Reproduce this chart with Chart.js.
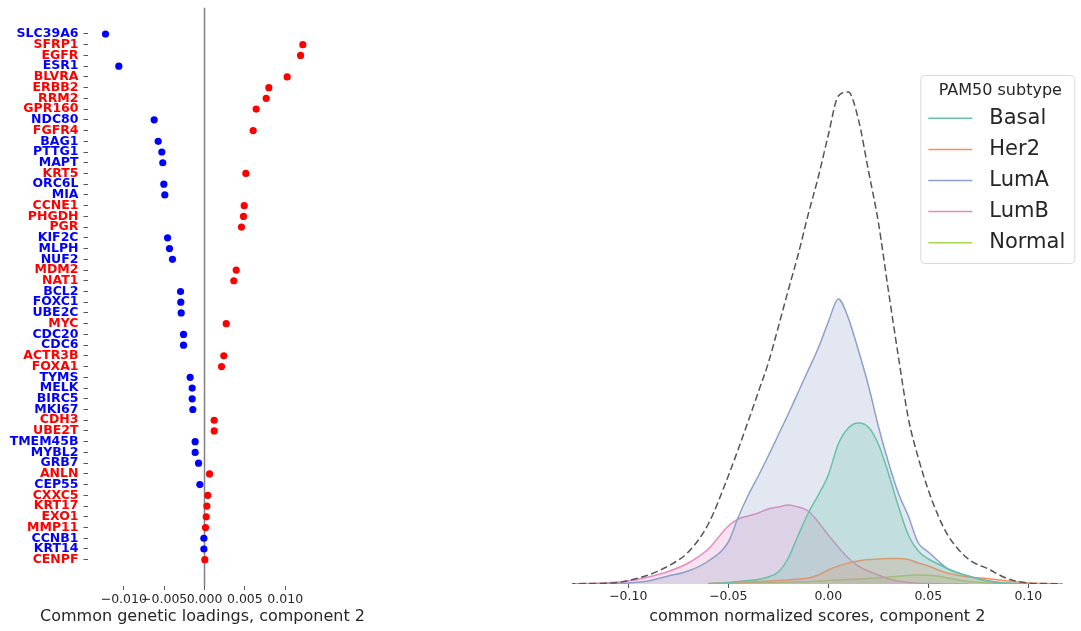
<!DOCTYPE html>
<html>
<head>
<meta charset="utf-8">
<script src="https://cdn.jsdelivr.net/npm/chart.js@4.4.1/dist/chart.umd.min.js"></script>
<style>
  html, body { margin: 0; padding: 0; background: #fff; }
  #wrap { position: relative; width: 1081px; height: 631px; }
  #loadings { position: absolute; left: 0; top: 0; width: 370px; height: 631px; }
  #scores { position: absolute; left: 540px; top: 0; width: 541px; height: 631px; }
</style>
</head>
<body>
<div id="wrap">
  <canvas id="loadings" width="370" height="631"></canvas>
  <canvas id="scores" width="541" height="631"></canvas>
</div>
<script>
// left panel: gene loadings on component 2
const genes = ["SLC39A6", "SFRP1", "EGFR", "ESR1", "BLVRA", "ERBB2", "RRM2", "GPR160", "NDC80", "FGFR4",
  "BAG1", "PTTG1", "MAPT", "KRT5", "ORC6L", "MIA", "CCNE1", "PHGDH", "PGR", "KIF2C",
  "MLPH", "NUF2", "MDM2", "NAT1", "BCL2", "FOXC1", "UBE2C", "MYC", "CDC20", "CDC6",
  "ACTR3B", "FOXA1", "TYMS", "MELK", "BIRC5", "MKI67", "CDH3", "UBE2T", "TMEM45B", "MYBL2",
  "GRB7", "ANLN", "CEP55", "CXXC5", "KRT17", "EXO1", "MMP11", "CCNB1", "KRT14", "CENPF"];
const loadings = [-0.01227, 0.01218, 0.0119, -0.01062, 0.01024, 0.00797, 0.00764, 0.0064, -0.00624, 0.00603,
  -0.00574, -0.00529, -0.00517, 0.00512, -0.00504, -0.00492, 0.00492, 0.00483, 0.00458, -0.00458,
  -0.00434, -0.00397, 0.00393, 0.00363, -0.00297, -0.00294, -0.00289, 0.00269, -0.0026, -0.0026,
  0.00239, 0.00211, -0.00178, -0.00153, -0.00153, -0.00145, 0.0012, 0.0012, -0.00116, -0.00116,
  -0.00074, 0.00062, -0.00058, 0.00041, 0.00029, 0.00021, 0.00012, -0.00008, -0.00008, 0.00004];
const loadingTicks = [-0.01, -0.005, 0, 0.005, 0.01];

// right panel: KDE of normalized scores per PAM50 subtype
const scoreGrid = [-0.13, -0.12, -0.11, -0.10, -0.09, -0.08, -0.07, -0.06, -0.05, -0.045,
  -0.04, -0.035, -0.03, -0.025, -0.02, -0.015, -0.01, -0.005, 0, 0.005,
  0.01, 0.015, 0.02, 0.025, 0.03, 0.035, 0.04, 0.045, 0.05, 0.055,
  0.06, 0.07, 0.08, 0.09, 0.10, 0.11, 0.12];
const densityAll = [0.02, 0.05, 0.08, 0.35, 0.9, 1.8, 3.2, 6.0, 10.8, 13.5,
  16.3, 19.2, 22.1, 25.7, 29.4, 33.0, 37.0, 40.7, 44.9, 48.8,
  49.2, 46.5, 41.4, 36.2, 29.4, 22.8, 16.6, 12.6, 9.4, 6.8,
  4.8, 2.5, 1.5, 0.5, 0.1, 0.03, 0];
const densityBasal = [null, null, null, null, null, null, null, 0.03, 0.15, 0.25,
  0.35, 0.45, 0.7, 1.2, 2.6, 4.9, 7.1, 8.9, 10.9, 14.0,
  15.6, 16.1, 15.7, 14.0, 11.1, 7.8, 4.9, 3.3, 2.5, 2.0,
  1.5, 0.8, 0.3, 0.1, 0.03, 0, null];
const densityHer2 = [null, null, null, null, null, null, null, 0.05, 0.12, 0.16,
  0.2, 0.25, 0.3, 0.35, 0.4, 0.5, 0.6, 0.9, 1.4, 1.8,
  2.1, 2.3, 2.45, 2.5, 2.55, 2.55, 2.45, 2.1, 1.8, 1.4,
  1.08, 0.7, 0.53, 0.3, 0.1, 0.04, 0.01];
const densityLumA = [0.01, 0.02, 0.05, 0.1, 0.3, 0.8, 1.3, 2.3, 4.2, 6.7,
  8.9, 10.8, 12.8, 14.9, 17.0, 19.2, 21.4, 23.6, 26.2, 28.5,
  26.6, 23.4, 19.9, 15.8, 12.2, 9.1, 6.8, 4.1, 3.2, 2.3,
  1.5, 0.8, 0.3, 0.05, 0.02, 0, null];
const densityLumB = [0.01, 0.05, 0.12, 0.3, 0.7, 1.25, 2.1, 3.5, 5.8, 6.5,
  6.8, 7.1, 7.5, 7.7, 7.9, 7.7, 7.3, 6.2, 4.9, 3.7,
  2.6, 1.8, 1.3, 0.9, 0.53, 0.3, 0.15, 0.08, 0.04, 0.02,
  0.01, 0, null, null, null, null, null];
const densityNormal = [null, null, null, null, null, null, null, 0.03, 0.07, 0.085,
  0.1, 0.115, 0.13, 0.15, 0.18, 0.2, 0.23, 0.29, 0.35, 0.4,
  0.45, 0.5, 0.55, 0.62, 0.7, 0.78, 0.85, 0.9, 0.87, 0.8,
  0.6, 0.25, 0.1, 0.04, 0.01, 0, null];
const scoreTicks = [-0.1, -0.05, 0, 0.05, 0.1];
const subtypes = ["Basal", "Her2", "LumA", "LumB", "Normal"];
const subtypeColors = ["#66c2a5", "#fc8d62", "#8da0cb", "#e78ac3", "#a6d854"];
const subtypeFills = ["rgba(102,194,165,0.25)", "rgba(252,141,98,0.25)", "rgba(141,160,203,0.25)",
  "rgba(231,138,195,0.25)", "rgba(166,216,84,0.25)"];
const subtypeDensities = [densityBasal, densityHer2, densityLumA, densityLumB, densityNormal];

Chart.defaults.font.family = '"DejaVu Sans", sans-serif';
Chart.defaults.color = '#262626';
Chart.defaults.animation = false;

const fmtMinus = (v, d) => v.toFixed(d).replace('-', '\u2212');
const tickMarks = { display: true, drawOnChartArea: false, drawTicks: true, tickLength: 4, color: '#555' };

// grey vertical line at zero loading
const zeroLine = {
  id: 'zeroLine',
  beforeDatasetsDraw(chart) {
    const x = chart.scales.x.getPixelForValue(0);
    const { top, bottom } = chart.chartArea;
    const ctx = chart.ctx;
    ctx.save();
    ctx.strokeStyle = '#808080';
    ctx.lineWidth = 1.5;
    ctx.beginPath();
    ctx.moveTo(x, top);
    ctx.lineTo(x, bottom);
    ctx.stroke();
    ctx.restore();
  }
};

// axis title drawn without Chart.js squeezing it to the chart-area width
const wideXTitle = {
  id: 'wideXTitle',
  afterDraw(chart, args, opts) {
    const area = chart.chartArea, ctx = chart.ctx;
    ctx.save();
    ctx.fillStyle = '#262626';
    ctx.font = '16px "DejaVu Sans"';
    ctx.textAlign = 'center';
    ctx.textBaseline = 'middle';
    ctx.fillText(opts.text, (area.left + area.right) / 2, chart.height - 14);
    ctx.restore();
  }
};

new Chart(document.getElementById('loadings'), {
  type: 'scatter',
  data: {
    datasets: [{
      data: genes.map((g, i) => ({ x: loadings[i], y: i })),
      pointRadius: 3.6,
      pointHoverRadius: 3.6,
      pointBorderWidth: 0,
      pointBackgroundColor: loadings.map(v => v >= 0 ? 'red' : 'blue'),
      pointBorderColor: loadings.map(v => v >= 0 ? 'red' : 'blue')
    }]
  },
  options: {
    responsive: false,
    layout: { padding: { left: 0, right: 52.5, top: 7.7, bottom: 0 } },
    plugins: {
      legend: { display: false }, tooltip: { enabled: false },
      wideXTitle: { text: 'Common genetic loadings, component 2' }
    },
    scales: {
      x: {
        type: 'linear', min: -0.0145, max: 0.014,
        afterBuildTicks: s => { s.ticks = loadingTicks.map(v => ({ value: v })); },
        afterFit: s => { s.height = 45; s.paddingLeft = 0; s.paddingRight = 0; },
        grid: tickMarks,
        border: { display: false },
        ticks: { font: { size: 12.5 }, padding: 2, autoSkip: false, maxRotation: 0, callback: v => fmtMinus(v, 3) }
      },
      y: {
        type: 'linear', reverse: true, min: -2.45, max: 51.45,
        afterBuildTicks: s => { s.ticks = genes.map((g, i) => ({ value: i })); },
        afterFit: s => { s.width = 87.5; s.paddingTop = 0; s.paddingBottom = 0; },
        grid: tickMarks,
        border: { display: false },
        ticks: {
          font: { size: 12.5, weight: 'bold' }, padding: 5, autoSkip: false,
          callback: v => genes[v],
          color: c => loadings[c.index] >= 0 ? 'red' : 'blue'
        }
      }
    }
  },
  plugins: [zeroLine, wideXTitle]
});

// legend box drawn inside the KDE panel
const kdeLegend = {
  id: 'kdeLegend',
  afterDraw(chart) {
    const ctx = chart.ctx, area = chart.chartArea;
    const w = 154, h = 188;
    const left = area.right + 12 - w, top = area.top + 11;
    ctx.save();
    ctx.beginPath();
    ctx.roundRect(left + 0.5, top + 0.5, w, h, 4);
    ctx.fillStyle = 'rgba(255,255,255,0.8)';
    ctx.fill();
    ctx.strokeStyle = '#dadada';
    ctx.lineWidth = 1;
    ctx.stroke();
    ctx.fillStyle = '#262626';
    ctx.textBaseline = 'middle';
    ctx.textAlign = 'center';
    ctx.font = '16px "DejaVu Sans"';
    ctx.fillText('PAM50 subtype', left + w / 2 + 3, top + 16);
    ctx.textAlign = 'left';
    ctx.font = '21px "DejaVu Sans"';
    chart.data.datasets.slice(1).forEach((ds, i) => {
      const y = top + 43.3 + i * 31.1;
      ctx.strokeStyle = ds.borderColor;
      ctx.lineWidth = 1.5;
      ctx.beginPath();
      ctx.moveTo(left + 8, y);
      ctx.lineTo(left + 52, y);
      ctx.stroke();
      ctx.fillText(ds.label, left + 69, y);
    });
    ctx.restore();
  }
};

new Chart(document.getElementById('scores'), {
  type: 'line',
  data: {
    datasets: [{
      label: 'all',
      data: scoreGrid.map((x, i) => ({ x, y: densityAll[i] })),
      borderColor: '#555555',
      borderDash: [7, 3.5],
      borderWidth: 1.5,
      fill: false,
      pointRadius: 0,
      cubicInterpolationMode: 'monotone'
    }].concat(subtypes.map((name, k) => ({
      label: name,
      data: scoreGrid.map((x, i) => ({ x, y: subtypeDensities[k][i] })),
      borderColor: subtypeColors[k],
      backgroundColor: subtypeFills[k],
      borderWidth: 1.5,
      fill: 'origin',
      pointRadius: 0,
      cubicInterpolationMode: 'monotone'
    })))
  },
  options: {
    responsive: false,
    layout: { padding: { left: 32.3, right: 18.7, top: 64, bottom: 0 } },
    plugins: {
      legend: { display: false }, tooltip: { enabled: false },
      wideXTitle: { text: 'common normalized scores, component 2' }
    },
    scales: {
      x: {
        type: 'linear', min: -0.128, max: 0.117,
        afterBuildTicks: s => { s.ticks = scoreTicks.map(v => ({ value: v })); },
        afterFit: s => { s.height = 47; s.paddingLeft = 0; s.paddingRight = 0; },
        grid: tickMarks,
        border: { display: false },
        ticks: { font: { size: 12.5 }, padding: 1, autoSkip: false, maxRotation: 0, callback: v => fmtMinus(v, 2) }
      },
      y: { display: false, min: 0, max: 52 }
    }
  },
  plugins: [kdeLegend, wideXTitle]
});
</script>
</body>
</html>
